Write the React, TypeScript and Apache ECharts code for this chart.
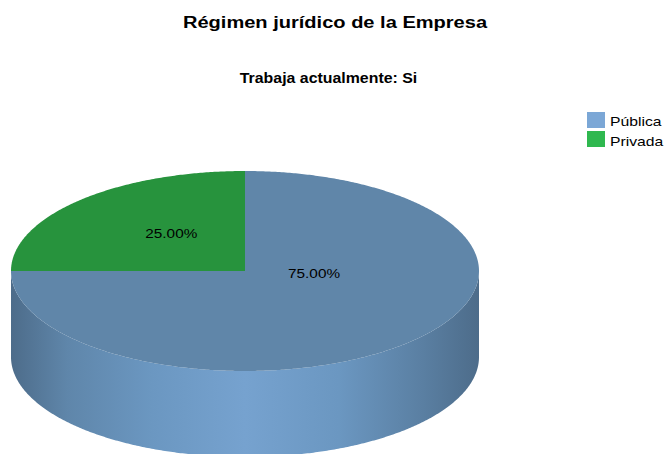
import React, { useEffect, useRef } from "react";
import * as echarts from "echarts";

const categories = ["Pública", "Privada"];
const values = [75, 25];
const legendColors = ["#7ba7d6", "#2fb84f"];
const topColors = ["#6086a9", "#27933d"];
const titleText = "Régimen jurídico de la Empresa";
const subtitleText = "Trabaja actualmente: Si";
// label anchor as a fraction of the radii from the pie centre
const labelFractions = [
  [0.295, 0.02],
  [-0.315, -0.38],
];

const CX = 245;
const CY = 271;
const RX = 234;
const RY = 100;
const DEPTH = 86;
const TEXT_STRETCH = 1.18;

const total = values.reduce((a, b) => a + b, 0);

const pt = (deg: number, dy = 0) => {
  const r = (deg * Math.PI) / 180;
  return [CX + RX * Math.sin(r), CY - RY * Math.cos(r) + dy];
};

const arc = (from: number, to: number, dy = 0) => {
  const pts: number[][] = [];
  const n = Math.max(2, Math.ceil(Math.abs(to - from) * 2));
  for (let i = 0; i <= n; i++) pts.push(pt(from + ((to - from) * i) / n, dy));
  return pts;
};

const sideFill = {
  type: "linear",
  x: CX - RX,
  y: 0,
  x2: CX + RX,
  y2: 0,
  global: true,
  colorStops: [
    { offset: 0, color: "#4d6c8a" },
    { offset: 0.12, color: "#5f86aa" },
    { offset: 0.3, color: "#6b97c1" },
    { offset: 0.5, color: "#76a2cf" },
    { offset: 0.7, color: "#6b97c1" },
    { offset: 0.88, color: "#5a7fa2" },
    { offset: 1, color: "#4d6c8a" },
  ],
};

const sliceSeries = (index: number) => {
  const start = (values.slice(0, index).reduce((a, b) => a + b, 0) / total) * 360;
  const end = start + (values[index] / total) * 360;
  return {
    type: "custom",
    name: categories[index],
    coordinateSystem: "none",
    data: [values[index]],
    itemStyle: { color: legendColors[index] },
    silent: true,
    renderItem: () => {
      const children: any[] = [];
      const a = Math.max(start, 90);
      const b = Math.min(end, 270);
      if (b > a) {
        const points = [...arc(a, b), ...arc(b, a, DEPTH)];
        children.push({
          type: "polygon",
          shape: { points },
          style: { fill: sideFill },
        });
      }
      children.push({
        type: "polygon",
        shape: { points: [[CX, CY], ...arc(start, end)] },
        style: { fill: topColors[index] },
      });
      const [fx, fy] = labelFractions[index];
      children.push({
        type: "text",
        x: CX + fx * RX,
        y: CY + fy * RY,
        scaleX: TEXT_STRETCH,
        style: {
          text: `${((values[index] / total) * 100).toFixed(2)}%`,
          fill: "#000",
          font: "13px 'Liberation Sans'",
          align: "center",
          verticalAlign: "middle",
        },
      });
      return { type: "group", children };
    },
  };
};

const textEl = (text: string, x: number, y: number, font: string, scaleX: number, align: string) => ({
  type: "text",
  x,
  y,
  scaleX,
  silent: true,
  style: { text, fill: "#000", font, align, verticalAlign: "middle" },
});

const legendEls = categories.flatMap((name, i) => [
  {
    type: "rect",
    silent: true,
    shape: { x: 587, y: 112 + i * 19, width: 18, height: 16 },
    style: { fill: legendColors[i] },
  },
  textEl(name, 610, 121 + i * 20, "13px 'Liberation Sans'", 1.21, "left"),
]);

export default function App() {
  const ref = useRef<HTMLDivElement>(null);
  useEffect(() => {
    const chart = echarts.init(ref.current!, null, { renderer: "svg" });
    chart.setOption({
      animation: false,
      backgroundColor: "#fff",
      graphic: [
        textEl(titleText, 335, 22, "bold 17px 'Liberation Sans'", 1.18, "center"),
        textEl(subtitleText, 328.5, 78, "bold 14px 'Liberation Sans'", 1.135, "center"),
        ...legendEls,
      ],
      series: values.map((_, i) => sliceSeries(i)),
    });
    return () => chart.dispose();
  }, []);
  return (
    <div
      ref={ref}
      style={{ position: "absolute", left: 0, top: 0, width: 666, height: 454 }}
    />
  );
}
